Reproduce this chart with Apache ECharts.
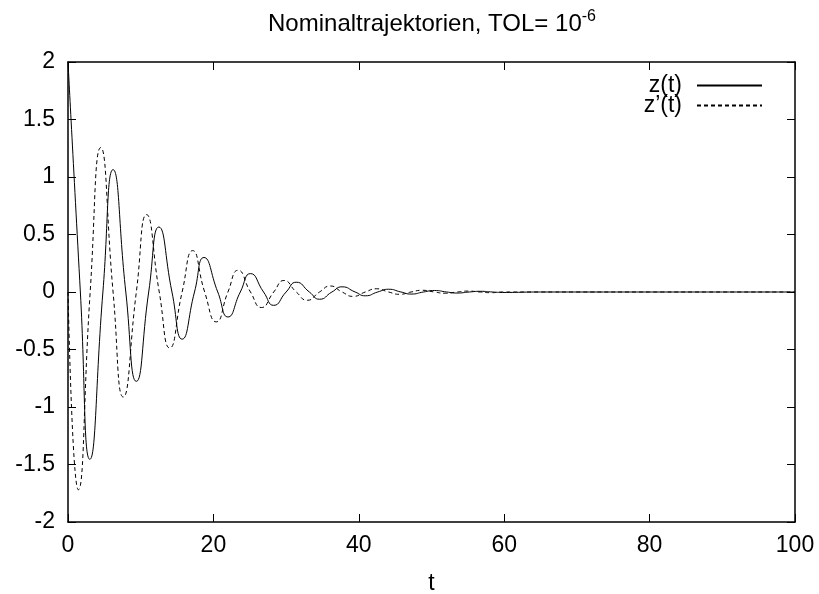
<!DOCTYPE html>
<html>
<head>
<meta charset="utf-8">
<script src="https://cdn.jsdelivr.net/npm/echarts@6/dist/echarts.min.js"></script>
<style>
  html, body { margin: 0; padding: 0; background: #fff; }
  #chart { width: 819px; height: 594px; }
</style>
</head>
<body>
<div id="chart"></div>
<script>
// z(t): Extrema und Nulldurchgänge
const zT = [0, 1.7, 3.0, 4.8, 6.2, 7.95, 9.4, 11.1, 12.5, 14.3, 15.7, 17.4, 18.7, 20.6,
  22.0, 23.7, 25.1, 26.9, 28.3, 30.0, 31.4, 33.2, 34.6, 36.3, 37.7, 39.5, 40.9, 42.6,
  44.1, 45.8, 47.2, 48.9, 50.4, 52.1, 53.5, 55.2, 56.7, 58.4, 59.8, 65, 70, 80, 90, 100];
const zV = [2, 0, -1.455, 0, 1.064, 0, -0.777, 0, 0.565, 0, -0.41, 0, 0.30, 0,
  -0.217, 0, 0.16, 0, -0.116, 0, 0.085, 0, -0.063, 0, 0.045, 0, -0.033, 0,
  0.024, 0, -0.018, 0, 0.013, 0, -0.009, 0, 0.006, 0, -0.004, 0, 0, 0, 0, 0];

// z'(t)
const dzT = [0, 1.42, 3.05, 4.5, 6.2, 7.6, 9.4, 10.8, 12.55, 14.0, 15.7, 17.15, 18.8, 20.4,
  22.0, 23.4, 25.1, 26.6, 28.3, 29.7, 31.4, 32.9, 34.6, 36.1, 37.7, 39.2, 40.9, 42.4,
  44.1, 45.6, 47.2, 48.7, 50.4, 51.9, 53.5, 55.0, 56.7, 58.2, 59.8, 65, 70, 80, 90, 100];
const dzV = [0, -1.72, 0, 1.256, 0, -0.913, 0, 0.673, 0, -0.487, 0, 0.36, 0, -0.26,
  0, 0.189, 0, -0.135, 0, 0.10, 0, -0.072, 0, 0.052, 0, -0.038, 0, 0.028,
  0, -0.02, 0, 0.015, 0, -0.011, 0, 0.008, 0, -0.006, 0, 0, 0, 0, 0, 0];

const xTicks = { min: 0, max: 100, interval: 20 };
const yTicks = { min: -2, max: 2, interval: 0.5 };

const font = "Liberation Sans";
const chart = echarts.init(document.getElementById("chart"));

function pairs(xs, ys) {
  return xs.map((x, i) => [x, ys[i]]);
}

const frameAxis = {
  axisLine: { show: true, onZero: false, lineStyle: { color: "#000", width: 1.5 } },
  axisTick: { show: true, inside: true, length: 8, lineStyle: { color: "#000", width: 1 } },
  splitLine: { show: false },
};

chart.setOption({
  animation: false,
  backgroundColor: "#fff",
  title: {
    text: "Nominaltrajektorien, TOL= 10{sup|-6}",
    left: 427,
    textAlign: "center",
    top: 4,
    textStyle: {
      fontFamily: font,
      fontSize: 24,
      fontWeight: "normal",
      color: "#000",
      rich: {
        sup: { fontFamily: font, fontSize: 16, color: "#000", padding: [0, 0, 14, 0] },
      },
    },
  },
  legend: {
    orient: "vertical",
    right: 56,
    top: 74,
    padding: 0,
    align: "right",
    itemWidth: 65,
    itemHeight: 14,
    itemGap: -3,
    itemStyle: { opacity: 0 },
    textStyle: { fontFamily: font, fontSize: 23, color: "#000", padding: [0, 10, 0, 0] },
    data: ["z(t)", "z’(t)"],
  },
  grid: { left: 68, right: 24, top: 62, bottom: 72, outerBoundsMode: "none" },
  xAxis: [
    Object.assign({
      type: "value",
      ...xTicks,
      name: "t",
      nameLocation: "middle",
      nameGap: 50,
      nameTextStyle: { fontFamily: font, fontSize: 23, color: "#000" },
      axisLabel: { fontFamily: font, fontSize: 23, color: "#000", margin: 12 },
    }, frameAxis),
    Object.assign({
      type: "value",
      position: "top",
      ...xTicks,
      axisLabel: { show: false },
    }, frameAxis),
  ],
  yAxis: [
    Object.assign({
      type: "value",
      ...yTicks,
      axisLabel: { fontFamily: font, fontSize: 23, color: "#000", margin: 13 },
    }, frameAxis),
    Object.assign({
      type: "value",
      position: "right",
      ...yTicks,
      axisLabel: { show: false },
    }, frameAxis),
  ],
  series: [
    {
      name: "z(t)",
      type: "line",
      smooth: 0.55,
      symbol: "none",
      lineStyle: { color: "#000", width: 1 },
      itemStyle: { color: "#000" },
      data: pairs(zT, zV),
    },
    {
      name: "z’(t)",
      type: "line",
      smooth: 0.55,
      symbol: "none",
      lineStyle: { color: "#000", width: 1, type: [4, 3] },
      itemStyle: { color: "#000" },
      data: pairs(dzT, dzV),
    },
  ],
});
</script>
</body>
</html>
